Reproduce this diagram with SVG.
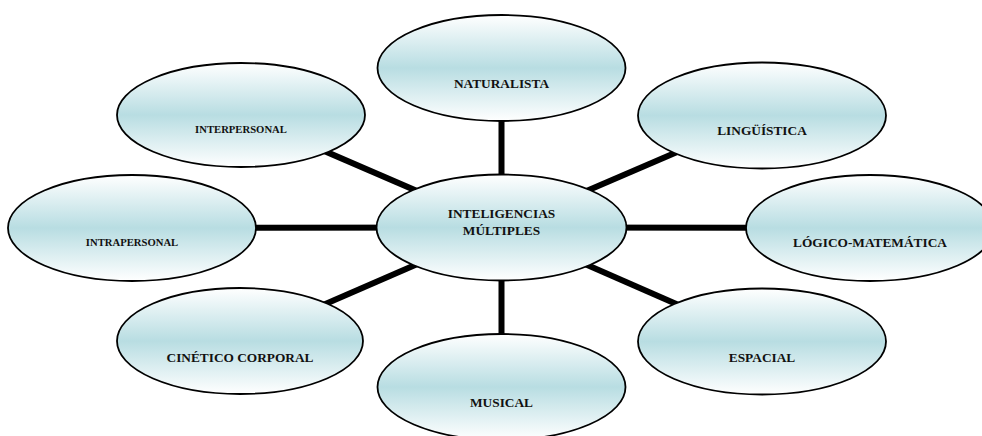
<svg xmlns="http://www.w3.org/2000/svg" width="982" height="436" viewBox="0 0 982 436">
  <defs>
    <linearGradient id="fill" x1="0" y1="0" x2="0" y2="1">
      <stop offset="0" stop-color="#ffffff"/>
      <stop offset="0.5" stop-color="#b8dde2"/>
      <stop offset="1" stop-color="#ffffff"/>
    </linearGradient>
  </defs>
  <style>
    .node ellipse { fill: url(#fill); stroke: #000; stroke-width: 1.8; }
    .node text { font-family: "Liberation Serif", "Times New Roman", serif; font-weight: bold; font-size: 13.33px; fill: #111; text-anchor: middle; }
    .node text.small { font-size: 10.67px; }
    .conn line { stroke: #000; stroke-width: 6; }
  </style>
  <rect width="982" height="436" fill="#ffffff"/>
  <g id="connectors" class="conn">
    <line x1="501.5" y1="227.5" x2="501.5" y2="68"/>
    <line x1="501.5" y1="227.5" x2="762" y2="115.5"/>
    <line x1="501.5" y1="227.5" x2="870" y2="228"/>
    <line x1="501.5" y1="227.5" x2="762" y2="341.5"/>
    <line x1="501.5" y1="227.5" x2="501.5" y2="387"/>
    <line x1="501.5" y1="227.5" x2="240" y2="341"/>
    <line x1="501.5" y1="227.5" x2="132" y2="228"/>
    <line x1="501.5" y1="227.5" x2="241" y2="115"/>
  </g>
  <g id="naturalista" class="node">
    <ellipse cx="501.5" cy="68" rx="124" ry="53"/>
    <text x="501.5" y="88">NATURALISTA</text>
  </g>
  <g id="linguistica" class="node">
    <ellipse cx="762" cy="115.5" rx="124" ry="53"/>
    <text x="762" y="135">LINGÜÍSTICA</text>
  </g>
  <g id="logico-matematica" class="node">
    <ellipse cx="870" cy="228" rx="124" ry="53"/>
    <text x="870" y="247">LÓGICO-MATEMÁTICA</text>
  </g>
  <g id="espacial" class="node">
    <ellipse cx="762" cy="341.5" rx="124" ry="53"/>
    <text x="762" y="362">ESPACIAL</text>
  </g>
  <g id="musical" class="node">
    <ellipse cx="501.5" cy="387" rx="124" ry="53"/>
    <text x="501.5" y="407">MUSICAL</text>
  </g>
  <g id="cinetico-corporal" class="node">
    <ellipse cx="240" cy="341" rx="123" ry="53"/>
    <text x="240" y="362">CINÉTICO CORPORAL</text>
  </g>
  <g id="intrapersonal" class="node">
    <ellipse cx="132" cy="228" rx="124" ry="53"/>
    <text class="small" x="132" y="246">INTRAPERSONAL</text>
  </g>
  <g id="interpersonal" class="node">
    <ellipse cx="241" cy="115" rx="124" ry="52"/>
    <text class="small" x="241" y="133">INTERPERSONAL</text>
  </g>
  <g id="center" class="node">
    <ellipse cx="501.5" cy="227.5" rx="125" ry="53"/>
    <text x="501.5" y="218">INTELIGENCIAS</text>
    <text x="501.5" y="235">MÚLTIPLES</text>
  </g>
</svg>
